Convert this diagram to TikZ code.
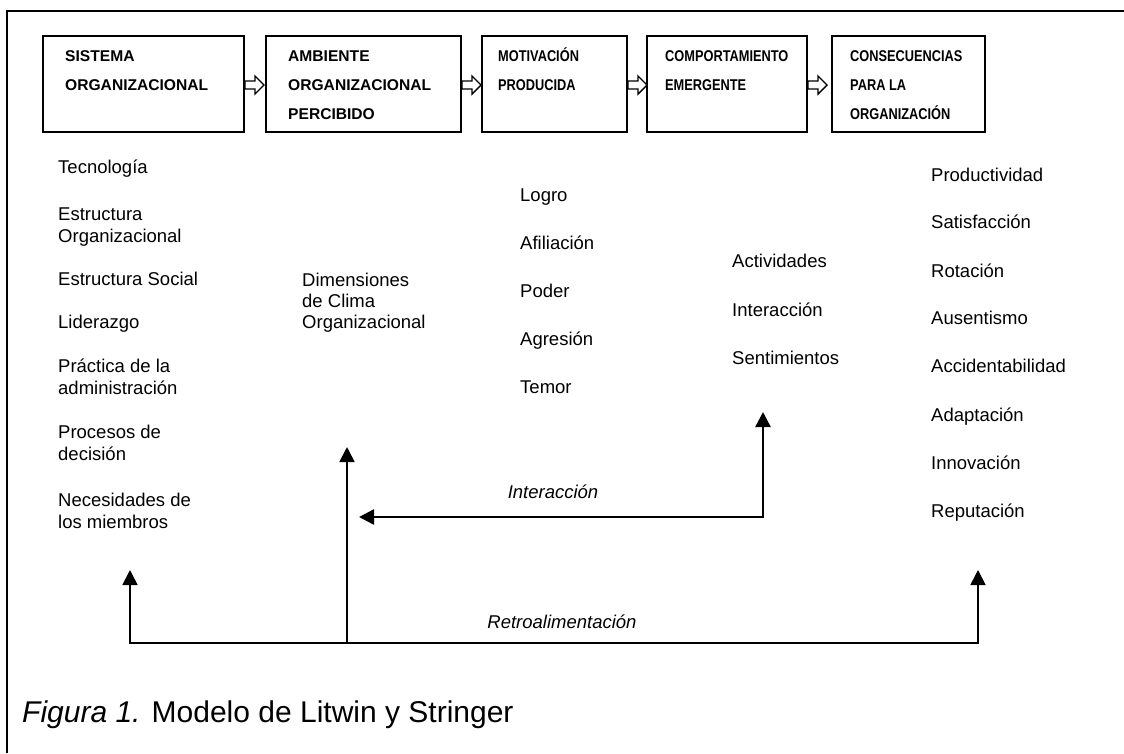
\documentclass[tikz,border=0pt]{standalone}
\usepackage{graphicx}
\usepackage{fontspec}
\setmainfont{Liberation Sans}
\usetikzlibrary{arrows.meta,calc}
\tikzset{
  box/.style={draw,line width=2pt,rectangle,minimum width=#1,minimum height=96pt,inner sep=0pt},
  hd/.style={anchor=base west,inner sep=0pt,font=\fontsize{15.6}{18}\selectfont\bfseries},
  txt/.style={anchor=base west,inner sep=0pt,font=\fontsize{18.5}{22}\selectfont},
  lbl/.style={anchor=base,inner sep=0pt,font=\fontsize{18.5}{22}\selectfont\itshape},
  harr/.style={draw,line width=1.4pt,fill=white,line join=miter},
  fb/.style={line width=2pt,{Triangle[length=15pt,width=15pt]}-{Triangle[length=15pt,width=15pt]}},
  fbone/.style={line width=2pt,-{Triangle[length=15pt,width=15pt]}},
}
\newcommand\harrowat[1]{\draw[harr] (#1) ++(0,4) -- ++(10,0) -- ++(0,5) -- ++(9,-9) -- ++(-9,-9) -- ++(0,5) -- ++(-10,0) -- cycle;}
\newcommand\nrw[1]{\scalebox{0.82}[1]{#1}}
\begin{document}
\begin{tikzpicture}[x=1pt,y=-1pt]
\useasboundingbox (0,0) rectangle (1124,753);
% outer frame
\draw[line width=2pt] (7,753) -- (7,11) -- (1124,11);

% boxes
\node[box=201pt] (b1) at (143.5,84) {};
\node[box=195pt] (b2) at (363.5,84) {};
\node[box=145pt] (b3) at (554.5,84) {};
\node[box=160pt] (b4) at (727,84) {};
\node[box=153pt] (b5) at (908.5,84) {};

% hollow arrows
\path (b1.east) ++(0,1) coordinate (a1);
\path (b2.east) ++(0,1) coordinate (a2);
\path (b3.east) ++(0,1) coordinate (a3);
\path (b4.east) ++(0,1) coordinate (a4);
\harrowat{a1}
\harrowat{a2}
\harrowat{a3}
\harrowat{a4}

% box titles
\node[hd] (t11) at (65,61) {SISTEMA};
\node[hd] (t12) at (65,90) {ORGANIZACIONAL};
\node[hd] (t21) at (288,61) {AMBIENTE};
\node[hd] (t22) at (288,90) {ORGANIZACIONAL};
\node[hd] (t23) at (288,119) {PERCIBIDO};
\node[hd] (t31) at (498,61) {\nrw{MOTIVACIÓN}};
\node[hd] (t32) at (498,90) {\nrw{PRODUCIDA}};
\node[hd] (t41) at (665,61) {\nrw{COMPORTAMIENTO}};
\node[hd] (t42) at (665,90) {\nrw{EMERGENTE}};
\node[hd] (t51) at (850,61) {\nrw{CONSECUENCIAS}};
\node[hd] (t52) at (850,90) {\nrw{PARA LA}};
\node[hd] (t53) at (850,119) {\nrw{ORGANIZACIÓN}};

% column 1
\node[txt] (c1a) at (58,173) {Tecnología};
\node[txt] (c1b) at (58,220) {Estructura};
\node[txt] (c1c) at (58,242) {Organizacional};
\node[txt] (c1d) at (58,285) {Estructura Social};
\node[txt] (c1e) at (58,328) {Liderazgo};
\node[txt] (c1f) at (58,372) {Práctica de la};
\node[txt] (c1g) at (58,394) {administración};
\node[txt] (c1h) at (58,438) {Procesos de};
\node[txt] (c1i) at (58,460) {decisión};
\node[txt] (c1j) at (58,506) {Necesidades de};
\node[txt] (c1k) at (58,528) {los miembros};

% column 2
\node[txt] (c2a) at (302,286) {Dimensiones};
\node[txt] (c2b) at (302,307) {de Clima};
\node[txt] (c2c) at (302,328) {Organizacional};

% column 3
\node[txt] (c3a) at (520,201) {Logro};
\node[txt] (c3b) at (520,249) {Afiliación};
\node[txt] (c3c) at (520,297) {Poder};
\node[txt] (c3d) at (520,345) {Agresión};
\node[txt] (c3e) at (520,393) {Temor};

% column 4
\node[txt] (c4a) at (732,267) {Actividades};
\node[txt] (c4b) at (732,316) {Interacción};
\node[txt] (c4c) at (732,364) {Sentimientos};

% column 5
\node[txt] (c5a) at (931,181) {Productividad};
\node[txt] (c5b) at (931,228) {Satisfacción};
\node[txt] (c5c) at (931,277) {Rotación};
\node[txt] (c5d) at (931,324) {Ausentismo};
\node[txt] (c5e) at (931,372) {Accidentabilidad};
\node[txt] (c5f) at (931,421) {Adaptación};
\node[txt] (c5g) at (931,469) {Innovación};
\node[txt] (c5h) at (931,517) {Reputación};

% interaction loop
\coordinate (iL) at (359,517);
\coordinate (iC) at (763,517);
\coordinate (iU) at (763,412);
\draw[fb,line width=2.4pt,line join=miter] (iL) -- (iC) -- (iU);
\node[lbl] (il) at (553,498) {Interacción};

% feedback loop
\coordinate (fL) at (130,570);
\coordinate (fLB) at (130,643);
\coordinate (fRB) at (978,643);
\coordinate (fR) at (978,570);
\coordinate (fM) at (347,643);
\coordinate (fMU) at (347,447);
\draw[fb,line width=1.8pt,line join=miter] (fL) -- (fLB) -- (fRB) -- (fR);
\draw[fbone,line width=1.8pt] (fM) -- (fMU);
\node[lbl] (fl) at (562,628) {Retroalimentación};

% caption
\node[anchor=base west,inner sep=0pt,font=\fontsize{30}{34}\selectfont] (cap) at (22,722) {\textit{Figura 1.} Modelo de Litwin y Stringer};
\end{tikzpicture}
\end{document}
